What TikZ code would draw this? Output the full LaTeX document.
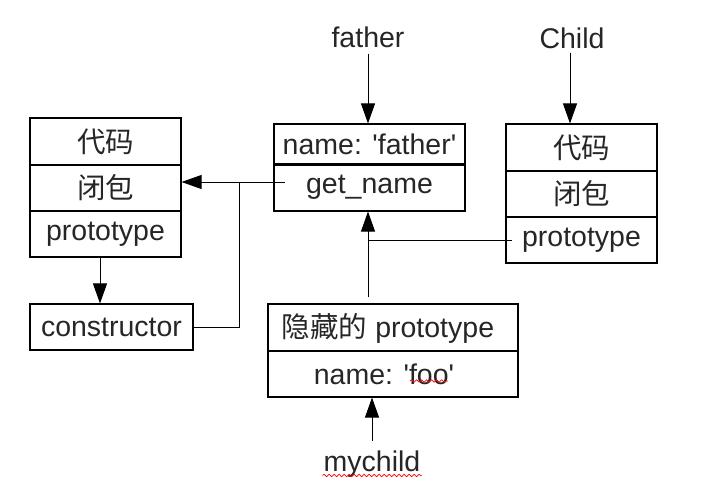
\documentclass[tikz,border=0pt]{standalone}
\usepackage{fontspec}
\setmainfont{Liberation Sans}
\newfontfamily\cjk{Noto Sans CJK SC}
\usetikzlibrary{arrows.meta,decorations.pathmorphing,calc}
\newcommand{\sq}{\textquotesingle}
\begin{document}
\begin{tikzpicture}[x=1pt,y=-1pt,
  txt/.style={text=black!85,font=\fontsize{28.5}{33}\selectfont},
  cell/.style={draw=black,line width=1.1pt,txt,inner sep=0pt,anchor=center},
  lab/.style={txt,inner sep=2pt},
  conn/.style={draw=black,line width=0.9pt},
  arr/.style={conn,-{Triangle[length=20pt,width=14pt]}},
  squig/.style={draw=red,line width=0.7pt,decorate,decoration={snake,segment length=5pt,amplitude=1.2pt}}]
\useasboundingbox (0,0) rectangle (702,501);
% left box
\node[cell,minimum width=151pt,minimum height=47pt] (l1) at (105.5,141.5) {\cjk 代码};
\node[cell,minimum width=151pt,minimum height=46pt] (l2) at (105.5,188) {\cjk 闭包};
\node[cell,minimum width=151pt,minimum height=46pt] (l3) at (105.5,234) {prototype};
\node[cell,minimum width=163pt,minimum height=46pt] (con) at (111.5,327) {constructor};
% father box
\node[cell,minimum width=191pt,minimum height=40pt] (f1) at (369.5,144) {name: \sq father\sq};
\node[cell,minimum width=191pt,minimum height=47pt] (f2) at (369.5,187.5) {get\_name};
\draw[line width=2pt] (f1.south west) -- (f1.south east);
% child box
\node[cell,minimum width=151pt,minimum height=47pt] (c1) at (581.5,147.5) {\cjk 代码};
\node[cell,minimum width=151pt,minimum height=46pt] (c2) at (581.5,194) {\cjk 闭包};
\node[cell,minimum width=151pt,minimum height=46pt] (c3) at (581.5,240) {prototype};
% hidden box
\node[cell,minimum width=250pt,minimum height=47pt] (h1) at (393,327.5) {};
\node[txt] (h1t) at (388,328) {{\cjk 隐藏的} prototype};
\node[cell,minimum width=250pt,minimum height=46pt] (h2) at (393,374) {};
\node[txt] (h2t) at (384,374) {name: \sq foo\sq};
% labels
\node[lab] (flab) at (368,37) {father};
\node[lab] (clab) at (572,38) {Child};
\node[lab] (mlab) at (372,464) {mychild};
% connectors
\draw[arr,shorten <=4pt] (flab.south) -- (flab.south |- f1.north);
\draw[arr,shorten <=2pt] ([xshift=-2pt]clab.south) -- ([xshift=-2pt]clab.south |- c1.north);
\draw[arr,shorten <=8pt] (mlab.north) -- (mlab.north |- h2.south);
\draw[arr] ([xshift=-5.5pt]l3.south) -- ([xshift=-5.5pt]l3.south |- con.north);
\coordinate (j) at (239,182);
\draw[conn] (con.east) -| (j);
\draw[arr] (j) -- (j -| l2.east);
\draw[conn] (j) -- ([xshift=12pt]j -| f2.west);
\coordinate (k) at (368,240);
\draw[arr] ([yshift=6pt]k |- h1.north) -- (k |- f2.south);
\draw[conn] (k) -- ([xshift=7pt]k -| c3.west);
% spell-check marks
\draw[squig] ($(h2t.south)+(26,-7)$) -- ++(38,0);
\draw[squig] ($(mlab.south west)+(1,-4)$) -- ($(mlab.south east)+(-1,-4)$);
\end{tikzpicture}
\end{document}
